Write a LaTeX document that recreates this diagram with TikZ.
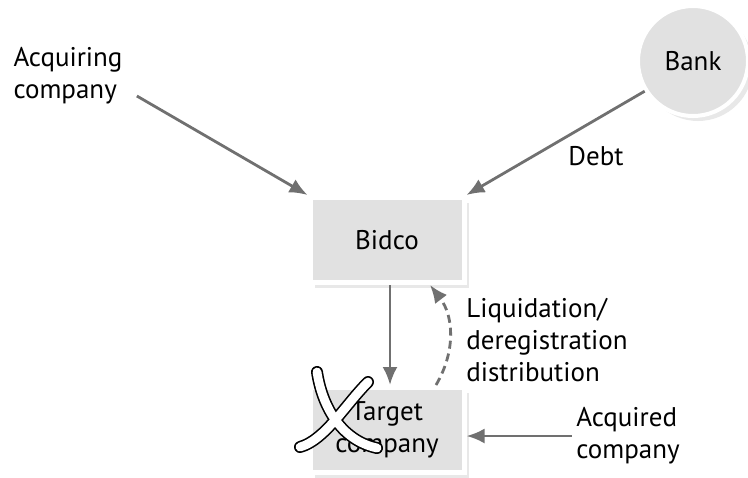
\documentclass[tikz,border=0pt]{standalone}
\usepackage{fontspec}
\setmainfont{PT Sans}
\usetikzlibrary{positioning}
\usetikzlibrary{arrows.meta}
\usetikzlibrary{calc}
\usetikzlibrary{shadows}

\definecolor{boxgray}{RGB}{225,225,225}
\definecolor{arrowgray}{RGB}{112,112,112}

\begin{document}
\begin{tikzpicture}[
    x=0.5pt, y=-0.5pt,
    every node/.style={font=\fontsize{13.5}{16}\selectfont},
    box/.style={fill=boxgray, draw=white, line width=2.5pt, minimum width=77pt, minimum height=42.5pt, align=center,
        drop shadow={shadow xshift=2.5pt, shadow yshift=-2.5pt, opacity=0.18}},
    bank/.style={circle, fill=boxgray, draw=white, line width=2pt, minimum size=55pt,
        drop shadow={shadow xshift=2.5pt, shadow yshift=-2.5pt, opacity=0.18}},
    txt/.style={align=left, inner sep=2pt},
    arr/.style={draw=arrowgray, line width=1.4pt, -{Latex[length=9pt,width=7.5pt]}}
]
    \useasboundingbox (0,0) rectangle (748,477);

    % Boxes
    \node[box] (Bidco) at (387,240) {Bidco};
    \node[box, below=50pt of Bidco] (Target) {Target\\company};
    \node[bank] (Bank) at (693,61) {Bank};

    % Labels
    \node[txt] (acq) at (68,76) {Acquiring\\company};
    \node (debt) at (596,156) {Debt};
    \node[txt] (liq) at (547,340) {Liquidation/\\deregistration\\distribution};
    \node[txt] (acqd) at (628,436) {Acquired\\company};

    % Arrows
    \draw[arr] ([shift={(10,20)}]acq.east) -- (Bidco.north west);
    \draw[arr] (Bank.212) -- (Bidco.north east);
    \draw[arr] ([xshift=1.5pt]Bidco.south) -- ([xshift=1.5pt]Target.north);
    \draw[arr, dash pattern=on 4pt off 2.5pt] ([xshift=24.5pt]Target.north) to[bend right=34] ([xshift=21.5pt]Bidco.south);
    \draw[arr] (acqd.west) -- (acqd.west -| Target.east);

    % Cross over the target
    \foreach \w/\c in {6pt/black, 4.4pt/white}
        \draw[line width=\w, \c, line cap=round]
            (317,372) .. controls (322,405) and (340,440) .. (377,448)
            (368,382) .. controls (345,405) and (325,440) .. (300,447);
\end{tikzpicture}
\end{document}
